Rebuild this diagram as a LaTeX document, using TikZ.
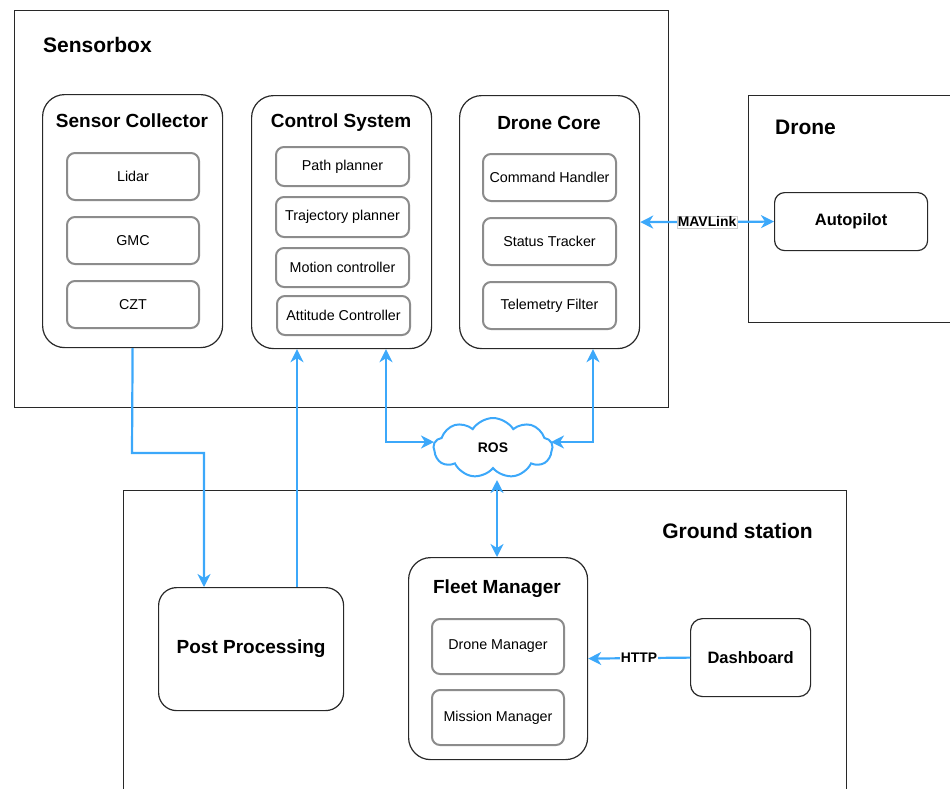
\documentclass[tikz,border=0pt]{standalone}
\usepackage{fontspec}
\setmainfont{Liberation Sans}
\usetikzlibrary{arrows.meta,shapes.symbols}
\definecolor{flow}{RGB}{60,168,250}
\definecolor{edge}{RGB}{40,40,40}
\definecolor{inner}{RGB}{140,140,140}
\newcommand{\fs}[1]{\fontsize{#1}{#1}\selectfont}
\tikzset{
  container/.style={draw=edge, line width=1.2pt, anchor=north west, inner sep=0pt},
  group/.style={draw=edge, line width=1.2pt, rounded corners=22pt, anchor=north west, inner sep=0pt, fill=white},
  item/.style={draw=inner, line width=2pt, rounded corners=8pt, anchor=north west, inner sep=0pt, font=\fs{14.3}},
  solo/.style={draw=edge, line width=1.2pt, anchor=north west, inner sep=0pt, font=\bfseries\fs{16.5}},
  gtitle/.style={font=\bfseries\fs{19}, inner sep=0pt},
  ctitle/.style={font=\bfseries\fs{21}, inner sep=0pt},
  flowline/.style={draw=flow, line width=2.2pt},
  tipfw/.style={-{Stealth[length=13pt,width=13pt,inset=4pt]}},
  tipbi/.style={{Stealth[length=13pt,width=13pt,inset=4pt]}-{Stealth[length=13pt,width=13pt,inset=4pt]}},
  lbl/.style={fill=white, font=\bfseries\fs{13.9}, inner sep=1pt, text=black},
}
\begin{document}
\begin{tikzpicture}[x=1pt,y=-1pt]
\useasboundingbox (0,0) rectangle (950,788);
\clip (0,0) rectangle (950,788);

% containers
\node[container, minimum width=654, minimum height=397] (sbox) at (14,10) {};
\node[container, minimum width=230, minimum height=227] (drone) at (748,95) {};
\node[container, minimum width=723, minimum height=330] (ground) at (123,490) {};
\node[ctitle, anchor=west] (sboxlbl) at (43,45) {Sensorbox};
\node[ctitle, anchor=west] (dronelbl) at (775,127) {Drone};
\node[ctitle, anchor=east] (groundlbl) at (813,531) {Ground station};

% Sensor Collector
\node[group, minimum width=180, minimum height=253] (sc) at (42,94) {};
\node[gtitle] (sct) at (132,121) {Sensor Collector};
\node[item, minimum width=132, minimum height=47] (lidar) at (66,152) {};
\node[font=\fs{14.3}] at (lidar.center) {Lidar};
\node[item, minimum width=132, minimum height=47] (gmc) at (66,216) {};
\node[font=\fs{14.3}] at (gmc.center) {GMC};
\node[item, minimum width=132, minimum height=47] (czt) at (66,280) {};
\node[font=\fs{14.3}] at (czt.center) {CZT};

% Control System
\node[group, minimum width=180, minimum height=253] (cs) at (251,95) {};
\node[gtitle] (cst) at (341,123) {Control System};
\node[item, minimum width=133, minimum height=39] (path) at (275,146) {};
\node[font=\fs{14.3}] at (path.center) {Path planner};
\node[item, minimum width=133, minimum height=40] (traj) at (275,196) {};
\node[font=\fs{14.3}] at (traj.center) {Trajectory planner};
\node[item, minimum width=133, minimum height=39] (motion) at (275,247) {};
\node[font=\fs{14.3}] at (motion.center) {Motion controller};
\node[item, minimum width=133, minimum height=39] (att) at (276,295) {};
\node[font=\fs{14.3}] at (att.center) {Attitude Controller};

% Drone Core
\node[group, minimum width=180, minimum height=253] (dc) at (459,95) {};
\node[gtitle] (dct) at (549,123) {Drone Core};
\node[item, minimum width=133, minimum height=47] (cmd) at (482,153) {};
\node[font=\fs{14.3}] at (cmd.center) {Command Handler};
\node[item, minimum width=133, minimum height=47] (status) at (482,217) {};
\node[font=\fs{14.3}] at (status.center) {Status Tracker};
\node[item, minimum width=133, minimum height=47] (telem) at (482,281) {};
\node[font=\fs{14.3}] at (telem.center) {Telemetry Filter};

% Autopilot
\node[solo, rounded corners=10pt, minimum width=153, minimum height=58] (ap) at (774,192) {Autopilot};

% ROS cloud
\node[cloud, cloud puffs=9, cloud puff arc=115, aspect=2.1, draw=flow, line width=2pt, fill=white,
      minimum width=119, minimum height=60, inner sep=0pt, font=\bfseries\fs{13.9}] (ros) at (493,448) {ROS};

% Post processing
\node[solo, rounded corners=18pt, minimum width=185, minimum height=123, font=\bfseries\fs{19}] (pp) at (158,587) {Post Processing};

% Fleet Manager
\node[group, minimum width=179, minimum height=202] (fm) at (408,557) {};
\node[gtitle] (fmt) at (497,589) {Fleet Manager};
\node[item, minimum width=132, minimum height=55] (dm) at (431,618) {};
\node[font=\fs{14.3}] at (dm.center) {Drone Manager};
\node[item, minimum width=132, minimum height=55] (mm) at (431,689) {};
\node[font=\fs{14.3}] at (mm.center) {Mission Manager};

% Dashboard
\node[solo, rounded corners=12pt, minimum width=120, minimum height=78] (dash) at (690,618) {Dashboard};

% connectors
\coordinate (k1) at (132,453);
\coordinate (k2) at (204,453);
\draw[flowline, tipfw] (sc.south) -- (k1) -- (k2) -- (k2 |- pp.north);

\coordinate (k3) at (297,0);
\draw[flowline, tipfw] (pp.north -| k3) -- (k3 |- cs.south);

\coordinate (k4) at (386,442);
\coordinate (k5) at (434,442);
\draw[flowline, tipbi] (cs.south -| k4) -- (k4) -- (k5);

\coordinate (k6) at (593,442);
\coordinate (k7) at (551,442);
\draw[flowline, tipbi] (dc.south -| k6) -- (k6) -- (k7);

\coordinate (k8) at (497,480);
\draw[flowline, tipbi] (k8) -- (k8 |- fm.north);

\draw[flowline, tipbi] (dc.east) -- node[lbl, draw=gray!40, line width=0.6pt] (mav) {MAVLink} (ap.west);
\draw[flowline, tipfw] (dash.west) -- node[lbl] (http) {HTTP} (fm.east);
\end{tikzpicture}
\end{document}
